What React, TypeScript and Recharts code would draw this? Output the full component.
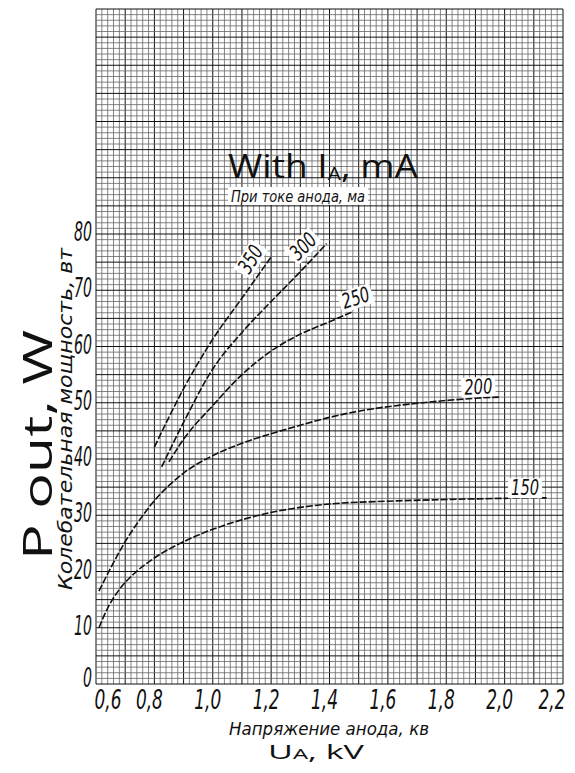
import { LineChart, Line, XAxis, YAxis, ReferenceLine, ReferenceDot } from "recharts";

const NARROW = "'DejaVu Sans Condensed', 'DejaVu Sans', sans-serif";
const HAND = "'Open Sans', 'DejaVu Sans', sans-serif";

// axis ticks (kV, W)
const voltageTicks = [0.6, 0.8, 1.0, 1.2, 1.4, 1.6, 1.8, 2.0, 2.2];
const powerTicks = [0, 10, 20, 30, 40, 50, 60, 70, 80];

// curves: u = anode voltage (kV), p = output power (W)
const ia150 = [
  { u: 0.61, p: 10 }, { u: 0.64, p: 13.5 }, { u: 0.68, p: 16.8 }, { u: 0.73, p: 19.6 },
  { u: 0.8, p: 22.4 }, { u: 0.9, p: 25.3 }, { u: 1.0, p: 27.5 }, { u: 1.1, p: 29.2 },
  { u: 1.2, p: 30.5 }, { u: 1.3, p: 31.4 }, { u: 1.4, p: 32 }, { u: 1.6, p: 32.5 },
  { u: 1.8, p: 32.8 }, { u: 2.0, p: 33 }, { u: 2.15, p: 33.1 },
];
const ia200 = [
  { u: 0.61, p: 16.5 }, { u: 0.65, p: 20.6 }, { u: 0.7, p: 25.3 }, { u: 0.75, p: 29.2 },
  { u: 0.8, p: 32.6 }, { u: 0.85, p: 35.3 }, { u: 0.9, p: 37.5 }, { u: 1.0, p: 40.6 },
  { u: 1.1, p: 42.8 }, { u: 1.2, p: 44.5 }, { u: 1.3, p: 46 }, { u: 1.4, p: 47.4 },
  { u: 1.5, p: 48.5 }, { u: 1.6, p: 49.3 }, { u: 1.7, p: 49.9 }, { u: 1.8, p: 50.4 },
  { u: 1.9, p: 50.8 }, { u: 1.98, p: 51 },
];
const ia250 = [
  { u: 0.85, p: 39.5 }, { u: 0.9, p: 43.5 }, { u: 1.0, p: 49.5 }, { u: 1.1, p: 55 },
  { u: 1.2, p: 59.2 }, { u: 1.3, p: 62.2 }, { u: 1.4, p: 64.4 }, { u: 1.48, p: 66.2 },
];
const ia300 = [
  { u: 0.825, p: 38.6 }, { u: 0.9, p: 46.5 }, { u: 1.0, p: 56 }, { u: 1.1, p: 62.5 },
  { u: 1.2, p: 68 }, { u: 1.3, p: 73.3 }, { u: 1.39, p: 78.3 },
];
const ia350 = [
  { u: 0.8, p: 42.1 }, { u: 0.9, p: 52.5 }, { u: 1.0, p: 61.3 }, { u: 1.1, p: 68.6 },
  { u: 1.2, p: 75.9 },
];

const curves = [
  { name: "150", data: ia150 },
  { name: "200", data: ia200 },
  { name: "250", data: ia250 },
  { name: "300", data: ia300 },
  { name: "350", data: ia350 },
];

const curveTags = [
  { text: "150", u: 2.07, p: 34.8, angle: 0 },
  { text: "200", u: 1.91, p: 52.8, angle: -3 },
  { text: "250", u: 1.49, p: 68.6, angle: -18 },
  { text: "300", u: 1.31, p: 77.8, angle: -45 },
  { text: "350", u: 1.13, p: 75.5, angle: -58 },
];

// graph paper
const gridU = Array.from({ length: 81 }, (_, i) => Math.round((0.6 + i * 0.02) * 100) / 100);
const gridP = Array.from({ length: 121 }, (_, i) => i);
const isMajorU = (u: number) => Math.abs(u * 10 - Math.round(u * 10)) < 1e-6;

const comma = (v: number) => v.toFixed(1).replace(".", ",");

function XTick(props: any) {
  const { x, y, payload, index } = props;
  const last = index === voltageTicks.length - 1;
  return (
    <text
      x={x + (index === 0 ? 12 : last ? -11 : -5)}
      y={y}
      dy={25}
      textAnchor="middle"
      fontFamily={NARROW}
      fontStyle="italic"
      fontSize={26}
      fill="#111"
      textLength={27}
      lengthAdjust="spacingAndGlyphs"
    >
      {comma(payload.value)}
    </text>
  );
}

function YTick(props: any) {
  const { x, y, payload } = props;
  const label = String(payload.value);
  return (
    <text
      x={x - 1}
      y={y}
      dy={payload.value === 0 ? 3 : 7}
      textAnchor="end"
      fontFamily={NARROW}
      fontStyle="italic"
      fontSize={27}
      fill="#111"
      textLength={label.length * 9}
      lengthAdjust="spacingAndGlyphs"
    >
      {label}
    </text>
  );
}

function CurveTag(props: any) {
  const { cx, cy, text, angle } = props;
  if (cx == null || cy == null) return null;
  return (
    <g transform={`translate(${cx},${cy}) rotate(${angle})`}>
      <rect x={-17} y={-10} width={34} height={20} fill="#fff" />
      <text
        textAnchor="middle"
        dominantBaseline="central"
        fontFamily={NARROW}
        fontStyle="italic"
        fontSize={21}
        fill="#111"
        textLength={28}
        lengthAdjust="spacingAndGlyphs"
      >
        {text}
      </text>
    </g>
  );
}

export default function App() {
  return (
    <div style={{ position: "relative", width: 567, height: 756, background: "#fff" }}>
      <LineChart
        width={567}
        height={756}
        margin={{ top: 1, right: 12, left: 28, bottom: 40 }}
      >
        <XAxis
          type="number"
          dataKey="u"
          domain={[0.6, 2.2]}
          ticks={voltageTicks}
          interval={0}
          allowDataOverflow
          axisLine={false}
          tickLine={false}
          tickSize={0}
          tickMargin={0}
          height={40}
          tick={<XTick />}
        />
        <YAxis
          type="number"
          domain={[0, 120]}
          ticks={powerTicks}
          interval={0}
          allowDataOverflow
          axisLine={false}
          tickLine={false}
          tickSize={0}
          tickMargin={3}
          width={60}
          tick={<YTick />}
        />
        {gridU.map((u) => (
          <ReferenceLine
            key={`u${u}`}
            x={u}
            stroke={isMajorU(u) ? "#111" : "#666"}
            strokeWidth={isMajorU(u) ? 1 : 0.8}
          />
        ))}
        {gridP.map((p) => (
          <ReferenceLine
            key={`p${p}`}
            y={p}
            stroke={p % 5 === 0 ? "#111" : "#666"}
            strokeWidth={p % 5 === 0 ? 1 : 0.8}
          />
        ))}
        {curves.map((c) => (
          <Line
            key={c.name}
            data={c.data}
            dataKey="p"
            type="monotone"
            stroke="#111"
            strokeWidth={1.6}
            strokeDasharray="7 2"
            dot={false}
            isAnimationActive={false}
          />
        ))}
        {curveTags.map((t) => (
          <ReferenceDot
            key={t.text}
            x={t.u}
            y={t.p}
            r={0}
            shape={(props: any) => <CurveTag {...props} text={t.text} angle={t.angle} />}
          />
        ))}
      </LineChart>

      <svg
        width={567}
        height={756}
        style={{ position: "absolute", left: 0, top: 0, pointerEvents: "none" }}
      >
        <text x={220} y={170} fontFamily={HAND} fontSize={32} fill="#111" textLength={190} lengthAdjust="spacingAndGlyphs">
          With I<tspan fontSize={18} dy={2}>A</tspan>
          <tspan dy={-2}>, mA</tspan>
        </text>
        <rect x={220} y={179} width={140} height={18} fill="#fff" />
        <text x={223} y={194} fontFamily={NARROW} fontStyle="italic" fontSize={16} fill="#111" textLength={134} lengthAdjust="spacingAndGlyphs">
          При токе анода, ма
        </text>
        <text
          transform="translate(28,437) rotate(-90)"
          textAnchor="middle"
          dominantBaseline="central"
          fontFamily={HAND}
          fontSize={40}
          fill="#111"
          textLength={230}
          lengthAdjust="spacingAndGlyphs"
        >
          P out, W
        </text>
        <text
          transform="translate(57,411) rotate(-90)"
          textAnchor="middle"
          dominantBaseline="central"
          fontFamily={NARROW}
          fontStyle="italic"
          fontSize={19}
          fill="#111"
          textLength={342}
          lengthAdjust="spacingAndGlyphs"
        >
          Колебательная мощность, вт
        </text>
        <text
          x={321}
          y={727}
          textAnchor="middle"
          fontFamily={NARROW}
          fontStyle="italic"
          fontSize={18}
          fill="#111"
          textLength={200}
          lengthAdjust="spacingAndGlyphs"
        >
          Напряжение анода, кв
        </text>
        <text
          x={308}
          y={751}
          textAnchor="middle"
          fontFamily={HAND}
          fontSize={20}
          fill="#111"
          textLength={96}
          lengthAdjust="spacingAndGlyphs"
        >
          U<tspan fontSize={14}>A</tspan>, kV
        </text>
      </svg>
    </div>
  );
}
